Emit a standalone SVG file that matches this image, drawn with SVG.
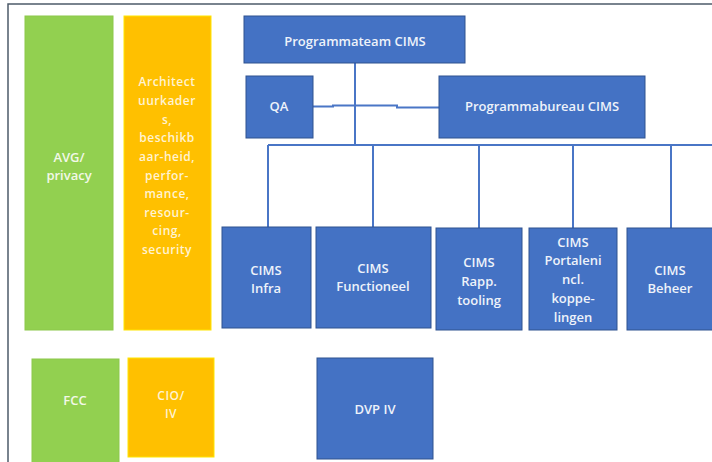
<svg xmlns="http://www.w3.org/2000/svg" width="712" height="462" viewBox="0 0 712 462">
<style>
.frame{fill:none;stroke:#4d5b6a;stroke-width:1.5}
.blue{fill:#4472c4;stroke:#2f528f;stroke-width:1}
.green{fill:#92d050;stroke:#8cc84a;stroke-width:1}
.orange{fill:#ffc000;stroke:#ffe500;stroke-width:1}
.conn{fill:none;stroke:#4a76c6;stroke-width:2}
text{font-family:"Open Sans","Liberation Sans",sans-serif;font-weight:600;text-anchor:middle;dominant-baseline:central}
.tb{fill:#eef2fa;font-size:13px}
.tg{fill:#f2f8e8;font-size:13px}
.to{fill:#fff3d2;font-size:12px;letter-spacing:0.5px}
</style>
<rect width="712" height="462" fill="#ffffff"/>
<path class="frame" d="M8,462 V4 H712"/>
<g id="connectors">
<line class="conn" x1="355" y1="63" x2="355" y2="145"/>
<line class="conn" x1="268" y1="145" x2="712" y2="145"/>
<line class="conn" x1="268" y1="145" x2="268" y2="227"/>
<line class="conn" x1="373" y1="145" x2="373" y2="227"/>
<line class="conn" x1="479" y1="145" x2="479" y2="228"/>
<line class="conn" x1="573" y1="145" x2="573" y2="228"/>
<line class="conn" x1="671" y1="145" x2="671" y2="228"/>
<polyline class="conn" points="313,106.5 333,106.5 333,105.5 397,105.5 397,107.5 439,107.5"/>
</g>
<g id="avg"><rect class="green" x="25" y="16" width="88" height="314"/><text class="tg" x="69" y="157">AVG/</text><text class="tg" x="69" y="175">privacy</text></g>
<g id="architectuur"><rect class="orange" x="124" y="16" width="87" height="314"/>
<text class="to" x="167" y="81">Architect</text>
<text class="to" x="167" y="100">uurkader</text>
<text class="to" x="167" y="119">s,</text>
<text class="to" x="167" y="137">beschikb</text>
<text class="to" x="167" y="156">aar-heid,</text>
<text class="to" x="167" y="175">perfor-</text>
<text class="to" x="167" y="193">mance,</text>
<text class="to" x="167" y="212">resour-</text>
<text class="to" x="167" y="230">cing,</text>
<text class="to" x="167" y="249">security</text>
</g>
<g id="programmateam"><rect class="blue" x="244" y="16" width="221" height="47"/><text class="tb" x="355" y="41">Programmateam CIMS</text></g>
<g id="qa"><rect class="blue" x="246" y="76" width="67" height="62"/><text class="tb" x="279" y="106">QA</text></g>
<g id="programmabureau"><rect class="blue" x="439" y="76" width="206" height="62"/><text class="tb" x="542" y="106">Programmabureau CIMS</text></g>
<g id="infra"><rect class="blue" x="222" y="227" width="89" height="101"/><text class="tb" x="266" y="270">CIMS</text><text class="tb" x="266" y="288">Infra</text></g>
<g id="functioneel"><rect class="blue" x="316" y="227" width="115" height="101"/><text class="tb" x="373" y="268">CIMS</text><text class="tb" x="373" y="286">Functioneel</text></g>
<g id="rapp"><rect class="blue" x="436" y="228" width="86" height="102"/><text class="tb" x="479" y="262">CIMS</text><text class="tb" x="479" y="281">Rapp.</text><text class="tb" x="479" y="300">tooling</text></g>
<g id="portalen"><rect class="blue" x="529" y="228" width="88" height="102"/><text class="tb" x="573" y="242">CIMS</text><text class="tb" x="573" y="260">Portaleni</text><text class="tb" x="573" y="279">ncl.</text><text class="tb" x="573" y="298">koppe-</text><text class="tb" x="573" y="317">lingen</text></g>
<g id="beheer"><rect class="blue" x="627" y="228" width="90" height="102"/><text class="tb" x="670" y="270">CIMS</text><text class="tb" x="670" y="288">Beheer</text></g>
<g id="fcc"><rect class="green" x="32" y="359" width="87" height="106"/><text class="tg" x="75" y="400">FCC</text></g>
<g id="cio"><rect class="orange" x="128" y="358" width="86" height="99"/><text class="to" x="171" y="395">CIO/</text><text class="to" x="171" y="413">IV</text></g>
<g id="dvp"><rect class="blue" x="317" y="358" width="116" height="101"/><text class="tb" x="375" y="409">DVP IV</text></g>
</svg>
